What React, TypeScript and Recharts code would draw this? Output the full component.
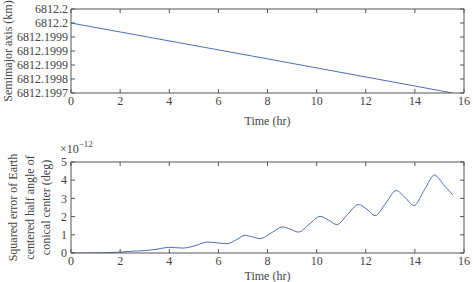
import { LineChart, Line, XAxis, YAxis, Label } from 'recharts';

const FONT = '"Liberation Serif", "Times New Roman", serif';
const TEXT = '#444';
const AXIS = '#555';
const BLUE = '#4d6bc0';

// shared time axis (hr)
const X_TICKS = [0, 2, 4, 6, 8, 10, 12, 14, 16];

// top panel: semimajor axis (km)
const semiHours = [0, 8, 15.54];
const semiAxis = [6812.19995, 6812.199822, 6812.1997];
const SEMI_TICKS = [6812.1997, 6812.19975, 6812.1998, 6812.19985, 6812.1999, 6812.19995, 6812.2];
const SEMI_LABELS = ['6812.1997', '6812.1998', '6812.1999', '6812.1999', '6812.1999', '6812.2', '6812.2'];

// bottom panel: squared error (x1e-12 deg)
const errHours = [
    0, 0.5, 1, 1.5, 2, 2.5, 3, 3.5, 4, 4.55, 5.05, 5.55, 6, 6.35, 6.7, 7.08, 7.4, 7.7,
    8.15, 8.62, 8.95, 9.26, 9.7, 10.14, 10.5, 10.82, 11.26, 11.7, 12.05, 12.38, 12.82,
    13.24, 13.6, 13.96, 14.4, 14.8, 15.2, 15.54,
];
const errValues = [
    0, 0, 0.01, 0.02, 0.05, 0.1, 0.13, 0.21, 0.31, 0.27, 0.4, 0.6, 0.55, 0.51, 0.7, 0.97, 0.88, 0.79,
    1.1, 1.43, 1.3, 1.15, 1.58, 2.01, 1.8, 1.56, 2.12, 2.66, 2.4, 2.05, 2.75,
    3.43, 3.05, 2.61, 3.5, 4.28, 3.7, 3.2,
];
const ERR_TICKS = [0, 1, 2, 3, 4, 5];

const semiData = semiHours.map((t, i) => ({ t, a: semiAxis[i] }));
const errData = errHours.map((t, i) => ({ t, e: errValues[i] }));

const tickStyle = { fill: TEXT, fontSize: 12, fontFamily: FONT };

function SemiTitle(props: any) {
    const vb = props.viewBox;
    const cy = vb.y + vb.height / 2;
    return (
        <text x={8} y={cy} transform={`rotate(-90, 8, ${cy})`} textAnchor="middle"
            dominantBaseline="central" fill={TEXT} fontSize={12} fontFamily={FONT}>
            Semimajor axis (km)
        </text>
    );
}

const ERR_TITLE = ['Squared error of Earth', 'centered half angle of', 'conical center (deg)'];

function ErrTitle(props: any) {
    const vb = props.viewBox;
    const cy = vb.y + vb.height / 2;
    return (
        <g>
            {ERR_TITLE.map((s, i) => {
                const x = 13 + i * 16.5;
                return (
                    <text key={s} x={x} y={cy} transform={`rotate(-90, ${x}, ${cy})`} textAnchor="middle"
                        dominantBaseline="central" fill={TEXT} fontSize={12} fontFamily={FONT}>
                        {s}
                    </text>
                );
            })}
        </g>
    );
}

// top + right axes only close the box (inward ticks, no labels); 1px so they still render
function boxAxes(yDomain: number[], yTicks: number[], key: string) {
    return [
        <XAxis key="xt" xAxisId="tt" orientation="top" dataKey="t" type="number" domain={[0, 16]}
            ticks={X_TICKS} height={1} tickSize={-4} tickFormatter={() => ''} interval={0}
            axisLine={{ stroke: AXIS }} tickLine={{ stroke: AXIS }} allowDataOverflow />,
        <YAxis key="yr" yAxisId="rr" orientation="right" type="number" domain={yDomain}
            ticks={yTicks} width={1} tickSize={-4} tickFormatter={() => ''} interval={0}
            axisLine={{ stroke: AXIS }} tickLine={{ stroke: AXIS }} allowDataOverflow />,
        <Line key="ghost" xAxisId="tt" yAxisId="rr" dataKey={key} stroke="none" dot={false}
            activeDot={false} isAnimationActive={false} legendType="none" />,
    ];
}

export default function App() {
    return (
        <div style={{ position: 'absolute', left: 0, top: 0, width: 473, height: 282, background: '#fff', fontFamily: FONT }}>
            <div style={{ position: 'absolute', left: 0, top: 0 }}>
                <LineChart width={473} height={130} data={semiData} margin={{ top: 8, right: 8, left: 0, bottom: 0 }}>
                    <XAxis xAxisId="b" dataKey="t" type="number" domain={[0, 16]} ticks={X_TICKS} interval={0}
                        height={37} tickSize={-4} tickMargin={7} tick={tickStyle}
                        axisLine={{ stroke: AXIS }} tickLine={{ stroke: AXIS }} allowDataOverflow>
                        <Label value="Time (hr)" position="insideBottom" offset={5} fill={TEXT} fontSize={12} fontFamily={FONT} />
                    </XAxis>
                    <YAxis yAxisId="l" type="number" domain={[6812.1997, 6812.2]} ticks={SEMI_TICKS} interval={0}
                        width={71} tickSize={-4} tickMargin={7} tick={tickStyle}
                        tickFormatter={(_v: number, i: number) => SEMI_LABELS[i]}
                        axisLine={{ stroke: AXIS }} tickLine={{ stroke: AXIS }} allowDataOverflow>
                        <Label content={SemiTitle} />
                    </YAxis>
                    {boxAxes([6812.1997, 6812.2], SEMI_TICKS, 'a')}
                    <Line xAxisId="b" yAxisId="l" type="linear" dataKey="a" stroke={BLUE} strokeWidth={1}
                        dot={false} isAnimationActive={false} />
                </LineChart>
            </div>
            <div style={{ position: 'absolute', left: 0, top: 130 }}>
                <LineChart width={473} height={152} data={errData} margin={{ top: 31, right: 8, left: 0, bottom: 0 }}>
                    <XAxis xAxisId="b" dataKey="t" type="number" domain={[0, 16]} ticks={X_TICKS} interval={0}
                        height={29} tickSize={-4} tickMargin={7} tick={tickStyle}
                        axisLine={{ stroke: AXIS }} tickLine={{ stroke: AXIS }} allowDataOverflow>
                        <Label value="Time (hr)" position="insideBottom" offset={2} fill={TEXT} fontSize={12} fontFamily={FONT} />
                    </XAxis>
                    <YAxis yAxisId="l" type="number" domain={[0, 5]} ticks={ERR_TICKS} interval={0}
                        width={71} tickSize={-4} tickMargin={8} tick={tickStyle}
                        axisLine={{ stroke: AXIS }} tickLine={{ stroke: AXIS }} allowDataOverflow>
                        <Label content={ErrTitle} />
                    </YAxis>
                    {boxAxes([0, 5], ERR_TICKS, 'e')}
                    <Line xAxisId="b" yAxisId="l" type="monotone" dataKey="e" stroke={BLUE} strokeWidth={1}
                        dot={false} isAnimationActive={false} />
                </LineChart>
            </div>
            <div style={{ position: 'absolute', left: 60, top: 138, color: TEXT, fontSize: 12, lineHeight: '12px', fontFamily: FONT }}>
                ×10<sup style={{ fontSize: 9, verticalAlign: 6 }}>−12</sup>
            </div>
        </div>
    );
}
